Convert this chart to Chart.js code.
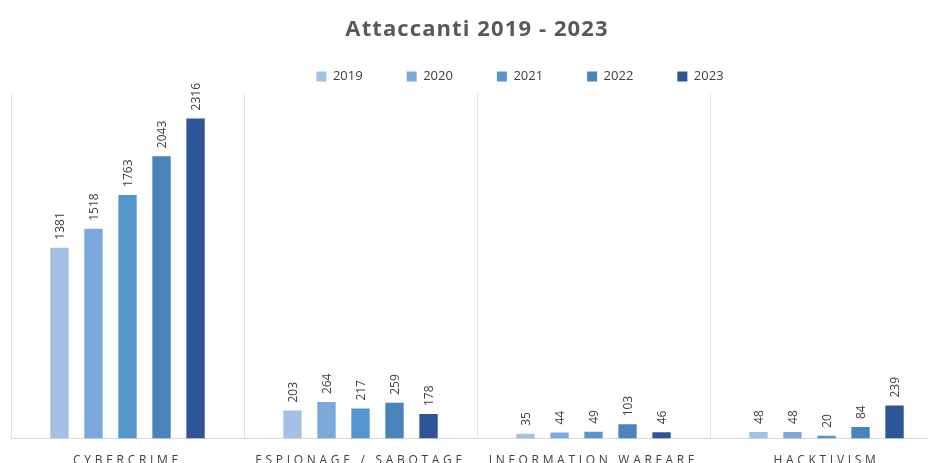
<!DOCTYPE html>
<html>
<head>
<meta charset="utf-8">
<script src="https://cdn.jsdelivr.net/npm/chart.js@4.4.1/dist/chart.umd.min.js"></script>
<style>
    html, body { margin: 0; padding: 0; background: #fff; overflow: hidden; width: 928px; height: 463px; }
    #wrap { position: relative; width: 1038px; height: 483px; }
    #title { position: absolute; left: 0; top: 12px; width: 954px; text-align: center;
             font: bold 22px "Open Sans", sans-serif; letter-spacing: 1.1px; color: #595959; }
</style>
</head>
<body>
<div id="wrap">
    <canvas id="chart" width="1038" height="483"></canvas>
    <div id="title">Attaccanti 2019 - 2023</div>
</div>
<script>
const categories = ['CYBERCRIME', 'ESPIONAGE / SABOTAGE', 'INFORMATION WARFARE', 'HACKTIVISM'];
const years = ['2019', '2020', '2021', '2022', '2023'];
const values2019 = [1381, 203, 35, 48];
const values2020 = [1518, 264, 44, 48];
const values2021 = [1763, 217, 49, 20];
const values2022 = [2043, 259, 103, 84];
const values2023 = [2316, 178, 46, 239];
const colors = ['#A3C1E5', '#7BA9DB', '#5596CF', '#4A84BA', '#2E5597'];

const series = [values2019, values2020, values2021, values2022, values2023];

// rotated numbers above each bar
const valueLabels = {
    id: 'valueLabels',
    afterDatasetsDraw(chart) {
        const ctx = chart.ctx;
        chart.data.datasets.forEach((ds, i) => {
            chart.getDatasetMeta(i).data.forEach((bar, j) => {
                ctx.save();
                ctx.translate(bar.x + 1, bar.y - 8);
                ctx.rotate(-Math.PI / 2);
                ctx.font = '12px "Open Sans"';
                ctx.fillStyle = '#404040';
                ctx.textAlign = 'left';
                ctx.textBaseline = 'middle';
                ctx.fillText(ds.data[j], 0, 0);
                ctx.restore();
            });
        });
    }
};

// spaced capitals on the category axis
const spacedTicks = {
    id: 'spacedTicks',
    beforeDraw(chart) {
        const x = chart.scales.x;
        if (x._spaced) return;
        const orig = x.drawLabels;
        x.drawLabels = function(area) {
            chart.ctx.save();
            chart.ctx.letterSpacing = '3.7px';
            orig.call(this, area);
            chart.ctx.restore();
        };
        x._spaced = true;
    }
};

// the legend sits a bit right of the plot centre in the original
const legendShift = {
    id: 'legendShift',
    afterLayout(chart) {
        chart.legend.left += 43;
        chart.legend.right += 43;
    }
};

new Chart(document.getElementById('chart'), {
    type: 'bar',
    data: {
        labels: categories,
        datasets: series.map((vals, i) => ({
            label: years[i],
            data: vals,
            backgroundColor: colors[i],
            categoryPercentage: 0.73,
            barPercentage: 0.54
        }))
    },
    options: {
        responsive: false,
        animation: false,
        layout: { padding: { left: 11, right: 95, top: 26, bottom: 0 } },
        plugins: {
            title: { display: false },
            tooltip: { enabled: false },
            legend: {
                position: 'top',
                maxHeight: 70,
                labels: {
                    boxWidth: 10,
                    boxHeight: 10,
                    padding: 44,
                    color: '#404040',
                    font: { family: 'Open Sans', size: 13 }
                }
            }
        },
        scales: {
            x: {
                grid: { color: '#e3e3e3', drawTicks: false },
                border: { color: '#d9d9d9' },
                ticks: {
                    autoSkip: false,
                    maxRotation: 0,
                    padding: 15,
                    color: '#404040',
                    font: { family: 'Open Sans', size: 12 }
                }
            },
            y: {
                display: false,
                min: 0,
                max: 2500
            }
        }
    },
    plugins: [valueLabels, spacedTicks, legendShift]
});
</script>
</body>
</html>
